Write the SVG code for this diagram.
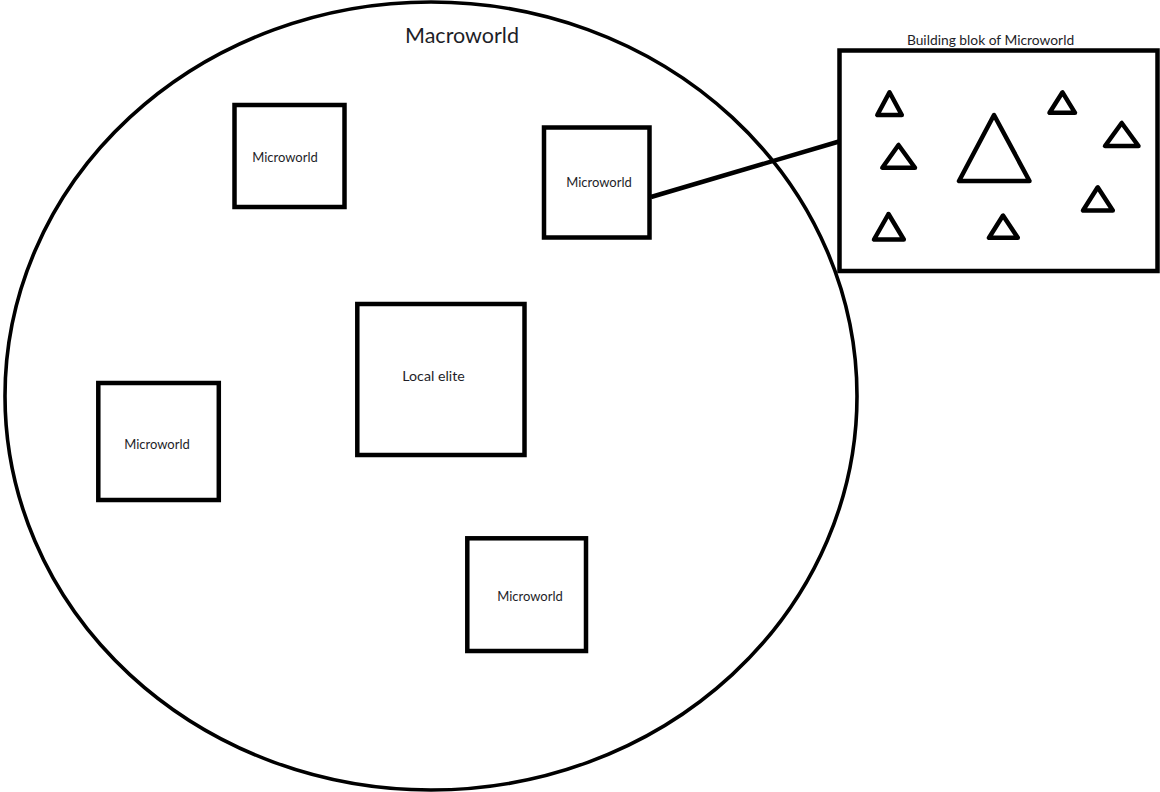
<svg xmlns="http://www.w3.org/2000/svg" width="1160" height="792" viewBox="0 0 1160 792">
  <style>
    .frame { fill: none; stroke: #000; stroke-width: 4.5; }
    .world { fill: none; stroke: #000; stroke-width: 3.6; }
    .tri { fill: none; stroke: #000; stroke-width: 4.5; stroke-linejoin: round; }
    .link { stroke: #000; stroke-width: 4.5; fill: none; }
    .lbl { font-family: Lato, "Open Sans", "Liberation Sans", sans-serif; font-size: 13px; fill: #1e1e28; text-anchor: middle; dominant-baseline: central; }
    .title { font-size: 21.5px; }
    .small { font-size: 13.8px; }
    .elite { font-size: 14.2px; }
  </style>
  <rect width="1160" height="792" fill="#fff"/>

  <!-- outer macroworld boundary -->
  <g id="macroworld">
    <ellipse class="world" cx="431" cy="396" rx="426" ry="394"/>
    <text class="lbl title" x="462" y="35">Macroworld</text>
  </g>

  <g id="connectors">
    <line class="link" x1="651" y1="197" x2="839" y2="141.5"/>
  </g>

  <g id="microworld-1">
    <rect class="frame" x="234.5" y="105" width="110" height="102"/>
    <text class="lbl" x="285" y="157">Microworld</text>
  </g>

  <g id="microworld-2">
    <rect class="frame" x="544" y="127.5" width="105.5" height="110"/>
    <text class="lbl" x="599" y="182">Microworld</text>
  </g>

  <g id="local-elite">
    <rect class="frame" x="357.3" y="304" width="167.2" height="151"/>
    <text class="lbl elite" x="433.5" y="375.5">Local elite</text>
  </g>

  <g id="microworld-3">
    <rect class="frame" x="98.3" y="383" width="120.5" height="117"/>
    <text class="lbl" x="157" y="443.5">Microworld</text>
  </g>

  <g id="microworld-4">
    <rect class="frame" x="467.3" y="538.3" width="118.7" height="112.7"/>
    <text class="lbl" x="530" y="596">Microworld</text>
  </g>

  <!-- enlarged view of a microworld's building blocks -->
  <g id="building-block">
    <text class="lbl small" x="990.5" y="39.5">Building blok of Microworld</text>
    <rect class="frame" x="839.5" y="50.5" width="318" height="220.5"/>
    <polygon class="tri" points="889.5,92.3 877.3,115 901.8,115"/>
    <polygon class="tri" points="898.5,145 882.3,167.7 915,167.7"/>
    <polygon class="tri" points="888.5,214 874,239.5 903.8,239.5"/>
    <polygon class="tri" points="994,115 959,181 1029.5,181"/>
    <polygon class="tri" points="1003,215.5 989,237.8 1017.8,237.8"/>
    <polygon class="tri" points="1062.5,92.3 1049.5,112.8 1075,112.8"/>
    <polygon class="tri" points="1121.7,123 1105,146 1138.5,146"/>
    <polygon class="tri" points="1097.7,187.3 1083,210.5 1112.8,210.5"/>
  </g>
</svg>
